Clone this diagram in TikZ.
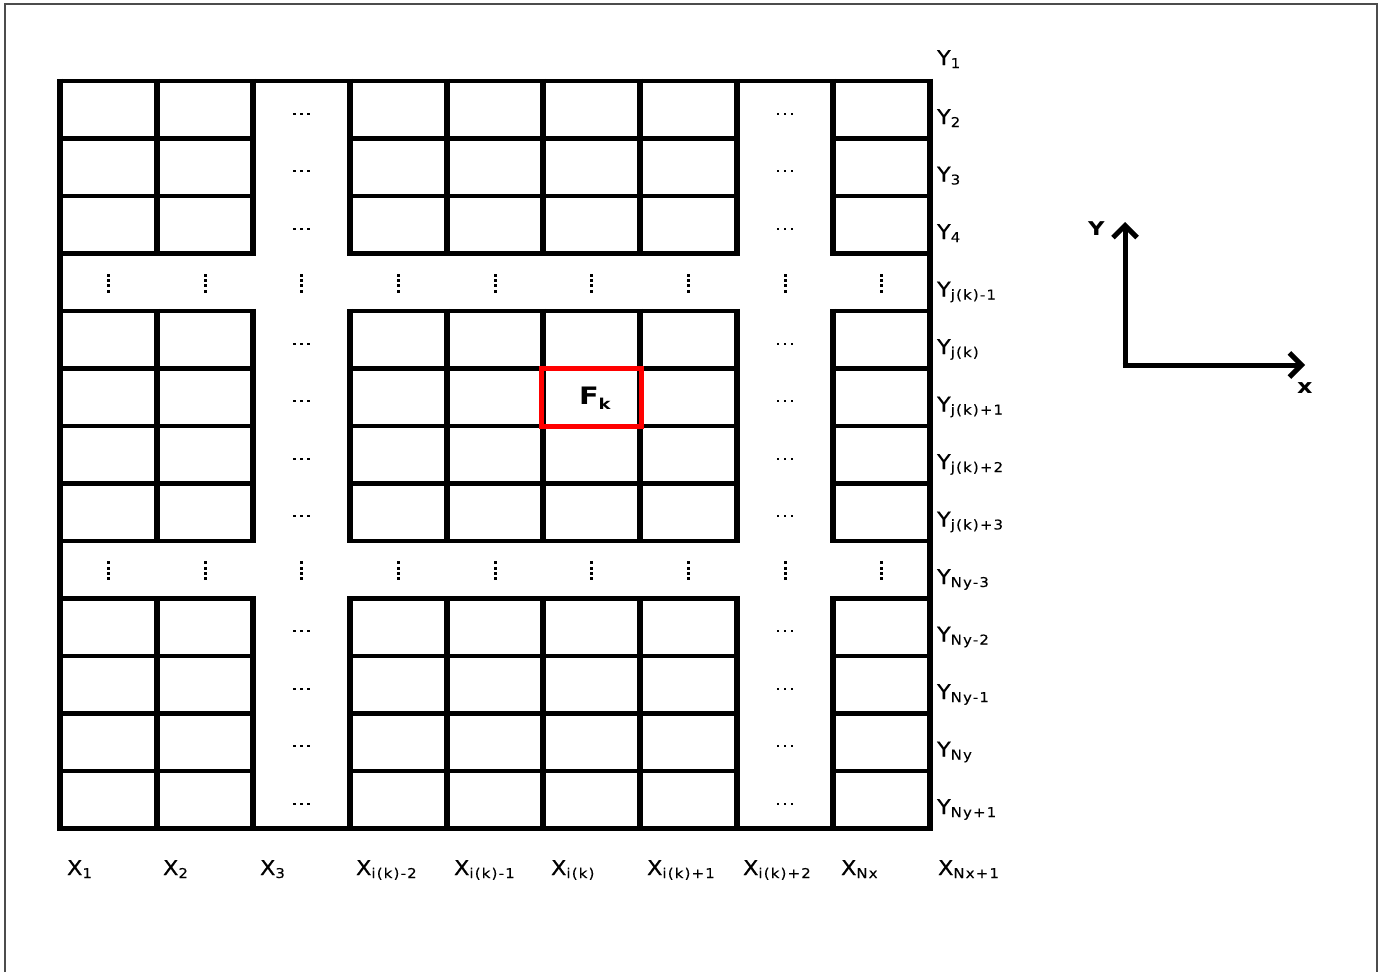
\documentclass[tikz,border=0pt]{standalone}
\usepackage{fontspec}
\setmainfont{DejaVu Sans}
\newfontfamily\labfont[FakeStretch=1.1,FakeBold=0.4]{DejaVu Sans}
\newfontfamily\subfont[FakeStretch=1.1,LetterSpace=9,FakeBold=0.3]{DejaVu Sans}
\newfontfamily\boldlab[FakeStretch=1.2]{DejaVu Sans Bold}
\usetikzlibrary{arrows.meta}
\newcommand\glab[2]{{\fontsize{20.5}{20.5}\labfont #1}{\raisebox{-3pt}{\fontsize{13.5}{13.5}\subfont #2}}}
\begin{document}
\begin{tikzpicture}[x=1pt,y=-1pt,
  hline/.style={line width=4.5pt, shorten <=-3pt, shorten >=-3pt},
  vline/.style={line width=6pt, shorten <=-2.25pt, shorten >=-2.25pt},
  lab/.style={anchor=base west, inner sep=0pt, outer sep=0pt},
  axis/.style={line width=5pt, -{Straight Barb[length=12pt,width=24pt,line width=5pt]}},
  framebox/.style={draw=black!70, line width=1.5pt}
]
\useasboundingbox (0,0) rectangle (1383,972);
\draw[framebox] (5,972) -- (5,4) -- (1377,4) -- (1377,972);

% horizontal grid lines
\foreach \a/\b in {0/3,4/8,9/13}{
  \foreach \j in {\a,...,\b}{
    \foreach \c/\d in {0/2,3/7,8/9}{
      \draw[hline] ({60+96.667*\c},{81+57.5*\j}) -- ({60+96.667*\d},{81+57.5*\j});
    }
  }
}
% vertical grid lines
\foreach \c/\d in {0/2,3/7,8/9}{
  \foreach \i in {\c,...,\d}{
    \foreach \a/\b in {0/3,4/8,9/13}{
      \draw[vline] ({60+96.667*\i},{81+57.5*\a}) -- ({60+96.667*\i},{81+57.5*\b});
    }
  }
}
% outer frame of grid
\draw[hline] (60,81) -- (930,81);
\draw[hline] (60,828.5) -- (930,828.5);
\draw[vline] (60,81) -- (60,828.5);
\draw[vline] (930,81) -- (930,828.5);

% horizontal dots in gap columns
\foreach \c in {2,7}{
  \foreach \j in {0,1,2,4,5,6,7,9,10,11,12}{
    \foreach \k in {-7,0,7}{
      \fill ({60+96.667*(\c+0.5)+\k-1.2},{81+57.5*(\j+0.5)+3}) rectangle ++(2.4,2.2);
    }
  }
}
% vertical dots in gap rows
\foreach \j in {3,8}{
  \foreach \c in {0,...,8}{
    \foreach \k in {-7,-1.5,3.5,9}{
      \fill ({60+96.667*(\c+0.5)-1.5},{81+57.5*(\j+0.5)+\k-1.5}) rectangle ++(3,3);
    }
  }
}

% highlighted cell
\draw[red, line width=5pt] (541.3,368.5) rectangle (641,426);
\node[lab] (fk) at (579,404) {{\fontsize{24}{24}\boldlab F}{\raisebox{-5pt}{\fontsize{15}{15}\boldlab k}}};

% Y labels
\node[lab] (y1) at (937,65) {\glab{Y}{1}};
\node[lab] (y2) at (937,124) {\glab{Y}{2}};
\node[lab] (y3) at (937,181.5) {\glab{Y}{3}};
\node[lab] (y4) at (937,239) {\glab{Y}{4}};
\node[lab] (y5) at (937,296.5) {\glab{Y}{j(k)-1}};
\node[lab] (y6) at (937,354) {\glab{Y}{j(k)}};
\node[lab] (y7) at (937,411.5) {\glab{Y}{j(k)+1}};
\node[lab] (y8) at (937,469) {\glab{Y}{j(k)+2}};
\node[lab] (y9) at (937,526.5) {\glab{Y}{j(k)+3}};
\node[lab] (y10) at (937,584) {\glab{Y}{Ny-3}};
\node[lab] (y11) at (937,641.5) {\glab{Y}{Ny-2}};
\node[lab] (y12) at (937,699) {\glab{Y}{Ny-1}};
\node[lab] (y13) at (937,756.5) {\glab{Y}{Ny}};
\node[lab] (y14) at (937,814) {\glab{Y}{Ny+1}};

% X labels
\node[lab] (x1) at (67,875) {\glab{X}{1}};
\node[lab] (x2) at (163,875) {\glab{X}{2}};
\node[lab] (x3) at (260,875) {\glab{X}{3}};
\node[lab] (x4) at (356,875) {\glab{X}{i(k)-2}};
\node[lab] (x5) at (454,875) {\glab{X}{i(k)-1}};
\node[lab] (x6) at (551,875) {\glab{X}{i(k)}};
\node[lab] (x7) at (647,875) {\glab{X}{i(k)+1}};
\node[lab] (x8) at (743,875) {\glab{X}{i(k)+2}};
\node[lab] (x9) at (841,875) {\glab{X}{Nx}};
\node[lab] (x10) at (938,875) {\glab{X}{Nx+1}};

% axes
\coordinate (o) at (1125,365);
\coordinate (ytip) at (1125,222);
\coordinate (xtip) at (1305,365);
\draw[axis] (1125,367.5) -- (ytip);
\draw[axis] (1122.5,365) -- (xtip);
\node[lab] (ylab) at (1088,235) {\fontsize{19}{19}\boldlab Y};
\node[lab] (xlab) at (1297,393) {\fontsize{20}{20}\boldlab x};
\end{tikzpicture}
\end{document}
